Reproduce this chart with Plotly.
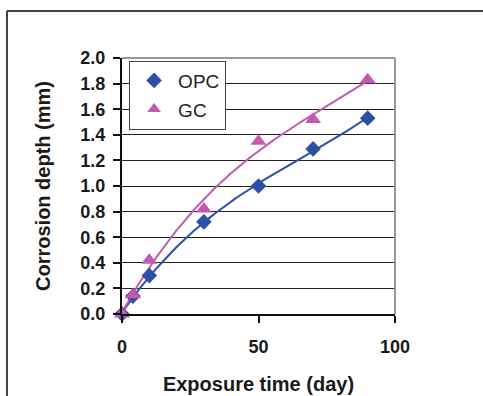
import numpy as np
import plotly.graph_objects as go

days = [0, 4, 10, 30, 50, 70, 90]
opc = [0.0, 0.14, 0.30, 0.72, 1.00, 1.29, 1.53]
gc = [0.0, 0.15, 0.42, 0.82, 1.35, 1.52, 1.83]

blue = "#2D4FA6"
pink = "#C35AB0"

series = [("OPC", opc, blue, "diamond", 12), ("GC", gc, pink, "triangle-up", 14)]

xs = np.linspace(0, 90, 200)
fig = go.Figure()
for name, ys, col, sym, sz in series:
    c = np.polyfit(days, ys, 3)
    fig.add_trace(go.Scatter(x=xs, y=np.polyval(c, xs), mode="lines",
                             line=dict(color=col, width=2), showlegend=False,
                             hoverinfo="skip"))
for name, ys, col, sym, sz in series:
    fig.add_trace(go.Scatter(x=days, y=ys, mode="markers", name=name,
                             legendgroup=name,
                             marker=dict(symbol=sym, size=sz, color=col),
                             cliponaxis=False))

fig.update_layout(
    width=483, height=396,
    margin=dict(l=122, r=88, t=58, b=82),
    paper_bgcolor="white", plot_bgcolor="white",
    font=dict(family="Liberation Sans, Arial", color="#1a1a1a"),
    showlegend=True,
    legend=dict(x=0.026, y=0.99, xanchor="left", yanchor="top",
                bordercolor="#444", borderwidth=1, bgcolor="white",
                font=dict(size=19, color="#222"), tracegroupgap=1,
                itemsizing="constant", itemwidth=38),
    xaxis=dict(range=[0, 100], tickvals=[0, 50, 100], showgrid=False,
               showline=True, linecolor="#111", linewidth=2,
               ticks="outside", ticklen=7, tickwidth=2, tickcolor="#111",
               tickfont=dict(size=18, weight="bold"),
               ticklabelstandoff=8, zeroline=False, automargin=False,
               title=dict(text="<b>Exposure time (day)</b>", font=dict(size=20), standoff=21)),
    yaxis=dict(range=[0, 2.0], tickvals=[0, 0.2, 0.4, 0.6, 0.8, 1.0, 1.2, 1.4, 1.6, 1.8, 2.0],
               ticktext=["0.0", "0.2", "0.4", "0.6", "0.8", "1.0", "1.2", "1.4", "1.6", "1.8", "2.0"],
               showgrid=True, gridcolor="#222", gridwidth=1,
               showline=True, linecolor="#111", linewidth=2,
               ticks="outside", ticklen=7, tickwidth=2, tickcolor="#111",
               tickfont=dict(size=18, weight="bold"),
               ticklabelstandoff=4, zeroline=False, automargin=False,
               title=dict(text="<b>Corrosion depth (mm)</b>", font=dict(size=20), standoff=24)),
)
# plot area gray border top/right
fig.add_shape(type="line", xref="paper", yref="paper", x0=0, x1=1, y0=1, y1=1,
              line=dict(color="#999", width=2))
fig.add_shape(type="line", xref="paper", yref="paper", x0=1, x1=1, y0=0, y1=1,
              line=dict(color="#999", width=2))
# outer frame
fx0 = (7 - 122) / 273
fy1 = (314 - 11) / 256
fig.add_shape(type="line", xref="paper", yref="paper", x0=fx0, x1=1.5, y0=fy1, y1=fy1,
              line=dict(color="#444", width=2))
fig.add_shape(type="line", xref="paper", yref="paper", x0=fx0, x1=fx0, y0=fy1, y1=-0.5,
              line=dict(color="#444", width=2))

fig.write_html("out.html")
